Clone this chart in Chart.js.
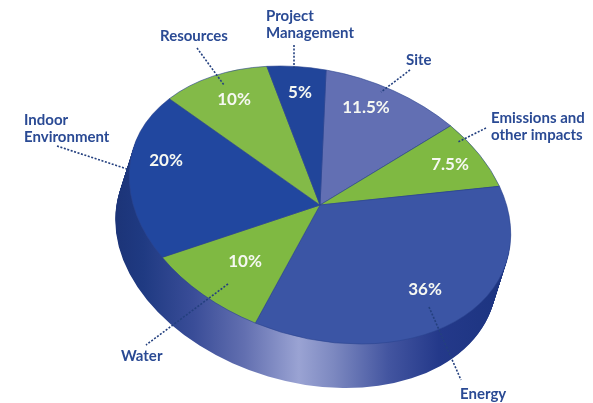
<!DOCTYPE html>
<html lang="en">
<head>
    <meta charset="UTF-8">
    <title>Credit weighting pie</title>
    <script src="https://cdn.jsdelivr.net/npm/chart.js"></script>
    <style>
        html, body { margin: 0; padding: 0; background: #fff; }
        #wrap { position: relative; width: 593px; height: 403px; }
        canvas { display: block; }
    </style>
</head>
<body>
    <div id="wrap"><canvas id="pie" width="593" height="403"></canvas></div>

    <script>
        const categories = ['Site', 'Emissions and other impacts', 'Energy', 'Water', 'Indoor Environment', 'Resources', 'Project Management'];
        const shares = [11.5, 7.5, 36, 10, 20, 10, 5];
        const sliceColors = ['#626fb3', '#7fb942', '#3b55a5', '#7fb942', '#21479f', '#83ba48', '#21459a'];

        // where the white percent sits on each slice: px, py
        const percentX = [366, 450, 425, 245, 166, 234, 300];
        const percentY = [108, 165, 290, 262, 161, 100, 93];

        // outer captions, one entry per slice
        const captionLines = [['Site'], ['Emissions and', 'other impacts'], ['Energy'], ['Water'], ['Indoor', 'Environment'], ['Resources'], ['Project', 'Management']];
        const captionX = [406, 491, 460, 121, 24, 160, 266];
        const captionY = [65, 123, 399, 361, 125, 41, 21];

        // dotted leaders: x1, y1, x2, y2
        const leaders = [
            [410, 70, 381, 92],
            [486, 128, 458, 142],
            [429, 307, 461, 380],
            [228, 284, 146, 345],
            [57, 146, 127, 169],
            [197, 48, 224, 85],
            [294, 45, 294, 68]
        ];

        // tilted disc: semi axes, tilt and how far the rim drops
        const discA = 195, discB = 133, discTilt = 16.5 * Math.PI / 180;
        const rimDx = -14, rimDy = 44;

        const rimStops = [
            [0, '#1c3478'], [0.07, '#1f3a82'], [0.2, '#3a4d98'], [0.33, '#626fb0'],
            [0.47, '#9aa3d3'], [0.56, '#7c88c0'], [0.7, '#4355a0'], [0.83, '#24398a'], [1, '#1c3480']
        ];

        const discPlugin = {
            id: 'disc',
            beforeDatasetsDraw(chart) {
                const ctx = chart.ctx;
                const arc = chart.getDatasetMeta(0).data[0];
                const cx = arc.x, cy = arc.y, r = arc.outerRadius;

                // rim: the ellipse swept down
                const grad = ctx.createLinearGradient(116, 0, 505, 0);
                rimStops.forEach(s => grad.addColorStop(s[0], s[1]));
                ctx.save();
                ctx.fillStyle = grad;
                for (let i = rimDy; i >= 1; i--) {
                    ctx.beginPath();
                    ctx.ellipse(cx + rimDx * i / rimDy, cy + i, discA, discB, discTilt, 0, Math.PI * 2);
                    ctx.fill();
                }
                ctx.restore();

                // squash the round pie into the tilted ellipse
                ctx.save();
                ctx.translate(cx, cy);
                ctx.rotate(discTilt);
                ctx.scale(discA / r, discB / r);
                ctx.translate(-cx, -cy);
            },
            afterDatasetsDraw(chart) {
                const ctx = chart.ctx;
                ctx.restore();

                ctx.save();
                ctx.strokeStyle = '#24407f';
                ctx.lineWidth = 1.6;
                ctx.setLineDash([2, 1.6]);
                leaders.forEach(l => {
                    ctx.beginPath();
                    ctx.moveTo(l[0], l[1]);
                    ctx.lineTo(l[2], l[3]);
                    ctx.stroke();
                });
                ctx.setLineDash([]);

                ctx.textBaseline = 'alphabetic';
                ctx.textAlign = 'left';
                ctx.fillStyle = '#2a4a94';
                ctx.font = 'bold 15px Lato';
                captionLines.forEach((lines, i) => {
                    lines.forEach((line, j) => {
                        ctx.fillText(line, captionX[i], captionY[i] + j * 16.5);
                    });
                });

                ctx.textAlign = 'center';
                ctx.textBaseline = 'middle';
                ctx.fillStyle = '#f6f8f2';
                shares.forEach((v, i) => {
                    ctx.font = 'bold 17px Lato';
                    ctx.fillText(v + '%', percentX[i], percentY[i]);
                });
                ctx.restore();
            }
        };

        new Chart(document.getElementById('pie'), {
            type: 'pie',
            data: {
                labels: categories,
                datasets: [{
                    data: shares,
                    backgroundColor: sliceColors,
                    borderColor: '#2b4490',
                    borderWidth: 0.6,
                    clip: false
                }]
            },
            options: {
                responsive: false,
                animation: false,
                devicePixelRatio: 1,
                rotation: -9.6,
                layout: { padding: { left: 140, right: 93, top: 25, bottom: 18 } },
                plugins: {
                    legend: { display: false },
                    tooltip: { enabled: false }
                }
            },
            plugins: [discPlugin]
        });
    </script>
</body>
</html>
